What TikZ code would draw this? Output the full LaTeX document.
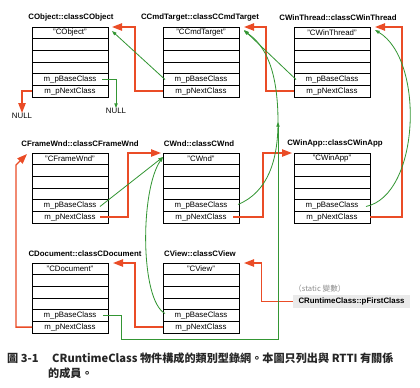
\documentclass[tikz,border=0pt]{standalone}
\usepackage{fontspec}
\setmainfont{Liberation Sans}
\newfontfamily\cjkfont{Noto Sans CJK TC}
\usetikzlibrary{
    arrows.meta,
    positioning,
    calc
}
\definecolor{nextred}{RGB}{234,76,38}
\definecolor{basegreen}{RGB}{52,150,52}
\definecolor{firstgray}{RGB}{234,234,234}

\begin{document}
\begin{tikzpicture}[
        x=0.3mm, y=-0.3mm,
        cellbox/.style={draw, line width=0.6pt, minimum width=22.8mm, minimum height=3.5mm,
            inner sep=0pt, outer sep=0pt, font=\fontsize{6.7}{8}\selectfont},
        clstitle/.style={inner sep=0pt, font=\fontsize{6.7}{8}\selectfont\bfseries},
        nulltext/.style={inner sep=0pt, font=\fontsize{6.7}{8}\selectfont},
        firstbox/.style={fill=firstgray, minimum width=35.1mm, minimum height=3.9mm,
            inner sep=0pt, font=\fontsize{6.7}{8}\selectfont\bfseries},
        note/.style={inner sep=0pt, text=black!45, font=\cjkfont\fontsize{6.5}{8}\selectfont},
        caption/.style={inner sep=0pt, text=black!85, font=\cjkfont\bfseries\fontsize{9.5}{11}\selectfont},
        nextarrow/.style={-{Triangle[length=3mm,width=2.2mm]}, nextred, line width=1.2pt},
        basearrow/.style={-{Triangle[length=1.4mm,width=1mm]}, basegreen, line width=0.7pt}
    ]
        \useasboundingbox (0,0) rectangle (420,387);

        % CRuntimeClass objects
        \foreach \nm/\x/\y/\cls/\dx in {cobj/32/27/CObject/1, cmd/163/27/CCmdTarget/-1,
                thr/294/27/CWinThread/6, frm/32/153/CFrameWnd/10, wnd/163/153/CWnd/-2,
                app/294/153/CWinApp/3, doc/32/263/CDocument/15, view/163/263/CView/-1} {
            \node[cellbox, anchor=north west] (\nm-1) at (\x,\y) {"\cls"};
            \node[cellbox, below=0pt of \nm-1] (\nm-2) {};
            \node[cellbox, below=0pt of \nm-2] (\nm-3) {};
            \node[cellbox, below=0pt of \nm-3] (\nm-4) {};
            \node[cellbox, below=0pt of \nm-4] (\nm-b) {m\_pBaseClass};
            \node[cellbox, below=0pt of \nm-b] (\nm-n) {m\_pNextClass};
            \node[clstitle, above=1.8mm of \nm-1, xshift=\dx*0.3mm] (\nm-t) {\cls::class\cls};
        }

        % NULL ends and the list head
        \node[nulltext] (nullnext) at (22,116) {NULL};
        \node[nulltext] (nullbase) at (116,111) {NULL};
        \node[firstbox] (first) at (351.5,301.5) {CRuntimeClass::pFirstClass};
        \node[note, anchor=west] (static) at (294,289) {（static 變數）};
        \coordinate (join) at (278,122);

        % m_pNextClass chain
        \draw[nextarrow] (first.west) -- ++(-31,0) |- ($(view-1.north east)+(5,0)$);
        \draw[nextarrow] (view-n.west) -- ++(-28,0) |- ($(doc-1.north east)+(5,0)$);
        \draw[nextarrow] (doc-n.west) -| ($(frm-1.north west)+(-16,12)$) -- ($(frm-1.north west)+(-5,1)$);
        \draw[nextarrow] ($(frm-n.east)+(-8,0)$) -- ++(28,0) |- ($(wnd-1.north west)+(-2,0)$);
        \draw[nextarrow] ($(wnd-n.east)+(-6,0)$) -- ++(30,0) |- ($(app-1.north west)+(-2,0)$);
        \draw[nextarrow] (app-n.east) -- ++(32,0) |- ($(thr-1.north east)+(5,0)$);
        \draw[nextarrow] (thr-n.west) -- ++(-28,0) |- ($(cmd-1.north east)+(5,0)$);
        \draw[nextarrow] (cmd-n.west) -- ++(-28,0) |- ($(cobj-1.north east)+(4,0)$);
        \draw[nextarrow] (cobj-n.west) -| (nullnext.north);

        % m_pBaseClass links
        \draw[basearrow] ($(cobj-b.east)+(-6,0)$) -| (nullbase.north);
        \draw[basearrow] ($(cmd-b.west)+(2,0)$) -- ($(cobj-1.north east)+(4,4)$);
        \draw[basearrow] ($(thr-b.west)+(2,0)$) -- ($(cmd-1.north east)+(5,3)$);
        \draw[basearrow] ($(app-b.east)+(-4,1)$) .. controls (420,195) and (425,60) .. ($(thr-1.north east)+(5,3)$);
        \draw[basearrow] ($(frm-b.east)+(-8,1)$) -- ($(wnd-1.north west)+(0,4)$);
        \draw[basearrow] ($(view-b.west)+(2,-2)$) .. controls (140,300) and (140,190) .. ($(wnd-1.north west)+(0,4)$);
        \draw[basearrow] ($(wnd-b.east)+(-1,-1)$) .. controls (268,192) and (278,160) .. (join)
            .. controls (278,70) and (265,45) .. ($(cmd-1.north east)+(5,4)$);
        \draw[basearrow] ($(doc-b.east)+(-5,0)$) -- ++(18,0) -- ++(0,24) -| (join);

        % Caption
        \node[caption, anchor=west] (fignum) at (7,358) {圖 3-1};
        \node[caption, anchor=west] (captext) at (52,358) {CRuntimeClass 物件構成的類別型錄網。本圖只列出與 RTTI 有關係};
        \node[caption, anchor=west] (captext2) at (48,373) {的成員。};

    \end{tikzpicture}
\end{document}
